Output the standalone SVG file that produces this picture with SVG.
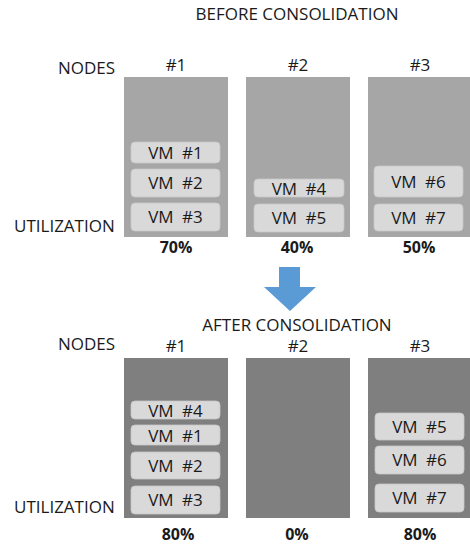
<svg xmlns="http://www.w3.org/2000/svg" width="470" height="544" viewBox="0 0 470 544">
<style>
text{font-family:"Open Sans","Noto Sans","Liberation Sans",sans-serif;fill:#1a1a1a}
.t{font-size:17px}
.lab{font-size:17px}
.h{font-size:17px;text-anchor:middle}
.p{font-size:16px;font-weight:bold;text-anchor:middle}
.nb{fill:#a6a6a6}
.na{fill:#7f7f7f}
.vm rect{fill:#d9d9d9;stroke:#c8c8c8;stroke-width:0.8}
.vm text{font-size:17px;text-anchor:middle;word-spacing:4px}
</style>
<rect width="470" height="544" fill="#fff"/>
<text class="t" x="297" y="20" text-anchor="middle">BEFORE CONSOLIDATION</text>
<text class="lab" x="58" y="74">NODES</text>
<text class="lab" x="14" y="232">UTILIZATION</text>
<g id="before-node1">
<rect class="nb" x="124" y="77" width="104" height="160"/>
<text class="h" x="176" y="71">#1</text>
<g class="vm"><rect x="131" y="142" width="89" height="21" rx="4"/><text x="175.5" y="158.5">VM #1</text></g>
<g class="vm"><rect x="131" y="169" width="89" height="28" rx="4"/><text x="175.5" y="189">VM #2</text></g>
<g class="vm"><rect x="131" y="203" width="89" height="28" rx="4"/><text x="175.5" y="223">VM #3</text></g>
<text class="p" x="176" y="253">70%</text>
</g>
<g id="before-node2">
<rect class="nb" x="246" y="77" width="104" height="160"/>
<text class="h" x="298" y="71">#2</text>
<g class="vm"><rect x="254" y="179" width="90" height="18" rx="4"/><text x="299" y="194.5">VM #4</text></g>
<g class="vm"><rect x="254" y="204" width="90" height="28" rx="4"/><text x="299" y="224">VM #5</text></g>
<text class="p" x="297" y="253">40%</text>
</g>
<g id="before-node3">
<rect class="nb" x="368" y="77" width="104" height="160"/>
<text class="h" x="420" y="71">#3</text>
<g class="vm"><rect x="374" y="166" width="89" height="31" rx="4"/><text x="418.5" y="188">VM #6</text></g>
<g class="vm"><rect x="374" y="204" width="89" height="27" rx="4"/><text x="418.5" y="223.5">VM #7</text></g>
<text class="p" x="419" y="253">50%</text>
</g>
<g id="connectors">
<path d="M279 267 H300 V287 H316 L290 311 L264 287 H279 Z" fill="#5b9bd5"/>
</g>
<text class="t" x="297" y="331" text-anchor="middle">AFTER CONSOLIDATION</text>
<text class="lab" x="58" y="350">NODES</text>
<text class="lab" x="14" y="513">UTILIZATION</text>
<g id="after-node1">
<rect class="na" x="124" y="358" width="104" height="160"/>
<text class="h" x="176" y="352">#1</text>
<g class="vm"><rect x="131" y="401" width="89" height="18" rx="4"/><text x="175.5" y="416.5">VM #4</text></g>
<g class="vm"><rect x="131" y="425" width="89" height="20" rx="4"/><text x="175.5" y="441.5">VM #1</text></g>
<g class="vm"><rect x="131" y="452" width="89" height="27" rx="4"/><text x="175.5" y="471.5">VM #2</text></g>
<g class="vm"><rect x="131" y="486" width="89" height="28" rx="4"/><text x="175.5" y="506">VM #3</text></g>
<text class="p" x="178" y="540">80%</text>
</g>
<g id="after-node2">
<rect class="na" x="246" y="358" width="104" height="160"/>
<text class="h" x="298" y="352">#2</text>
<text class="p" x="297" y="540">0%</text>
</g>
<g id="after-node3">
<rect class="na" x="368" y="358" width="104" height="160"/>
<text class="h" x="420" y="352">#3</text>
<g class="vm"><rect x="375" y="413" width="89" height="27" rx="4"/><text x="419.5" y="432.5">VM #5</text></g>
<g class="vm"><rect x="375" y="446" width="89" height="28" rx="4"/><text x="419.5" y="466">VM #6</text></g>
<g class="vm"><rect x="375" y="484" width="89" height="28" rx="4"/><text x="419.5" y="504">VM #7</text></g>
<text class="p" x="420" y="540">80%</text>
</g>
</svg>
